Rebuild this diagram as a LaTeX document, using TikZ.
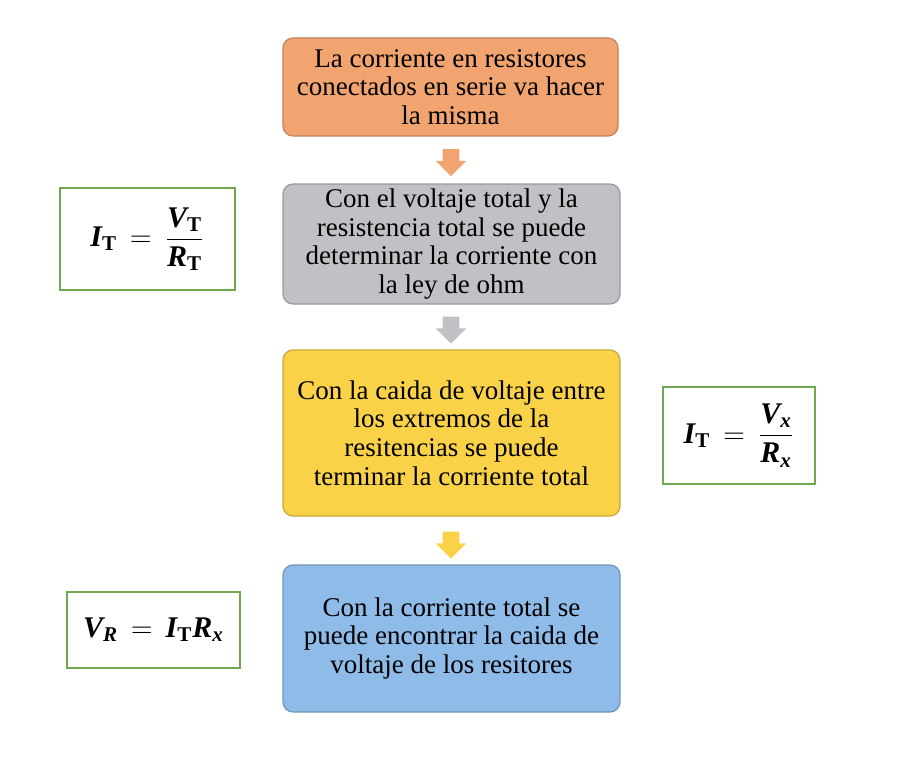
\documentclass[tikz,border=0pt]{standalone}
\usepackage{amsmath}
\usepackage{fontspec}
\setmainfont{Liberation Serif}
\usetikzlibrary{shapes.arrows}

\definecolor{naranja}{RGB}{242,164,112}
\definecolor{gris}{RGB}{192,192,197}
\definecolor{amarillo}{RGB}{250,210,72}
\definecolor{azul}{RGB}{143,187,232}
\definecolor{verde}{RGB}{112,168,80}

% variables en cursiva negrita
\newcommand{\vr}[1]{\text{\bfseries\itshape #1}}
\newcommand{\sub}[1]{\text{\bfseries #1}}

\tikzset{
	paso/.style={rounded corners=5pt, draw=#1!80!black, line width=0.6pt,
		fill=#1, align=center, inner sep=2pt,
		font=\rmfamily\fontsize{13.5}{14.3}\selectfont},
	formula/.style={draw=verde, line width=0.6pt, fill=white, inner sep=0pt,
		font=\fontsize{15}{17}\selectfont},
	flecha/.style={single arrow, shape border rotate=270, fill=#1,
		minimum height=13.5pt, minimum width=15pt, inner sep=4pt,
		single arrow head extend=3.5pt},
}

\begin{document}
\begin{tikzpicture}[x=0.5pt, y=-0.5pt]
	\useasboundingbox (0,0) rectangle (910,765);

	% pasos
	\node[paso=naranja, minimum width=167.5pt, minimum height=49pt] (p1) at (450.5,87)
		{La corriente en resistores\\conectados en serie va hacer\\la misma};
	\node[paso=gris, minimum width=168.5pt, minimum height=60pt] (p2) at (451.5,244)
		{Con el voltaje total y la\\resistencia total se puede\\determinar la corriente con\\la ley de ohm};
	\node[paso=amarillo, minimum width=168.5pt, minimum height=83pt] (p3) at (451.5,433)
		{Con la caida de voltaje entre\\los extremos de la\\resitencias se puede\\terminar la corriente total};
	\node[paso=azul, minimum width=168.5pt, minimum height=73.5pt] (p4) at (451.5,638.5)
		{Con la corriente total se\\puede encontrar la caida de\\voltaje de los resitores};

	% flechas
	\node[flecha=naranja] (f1) at (451,158.5) {};
	\node[flecha=gris] (f2) at (451,326) {};
	\node[flecha=amarillo] (f3) at (451,541) {};

	% formulas
	\node[formula, minimum width=87.5pt, minimum height=51pt] (e1) at (147.5,239)
		{$\vr{I}_{\sub{T}} \,=\, \dfrac{\vr{V}_{\sub{T}}}{\vr{R}_{\sub{T}}}$};
	\node[formula, minimum width=76pt, minimum height=48.5pt] (e2) at (739,435.5)
		{$\vr{I}_{\sub{T}} \,=\, \dfrac{\vr{V}_{\vr{x}}}{\vr{R}_{\vr{x}}}$};
	\node[formula, minimum width=86.5pt, minimum height=38pt] (e3) at (153.5,630)
		{$\vr{V}_{\vr{R}} \,=\, \vr{I}_{\sub{T}}\vr{R}_{\vr{x}}$};

\end{tikzpicture}
\end{document}
